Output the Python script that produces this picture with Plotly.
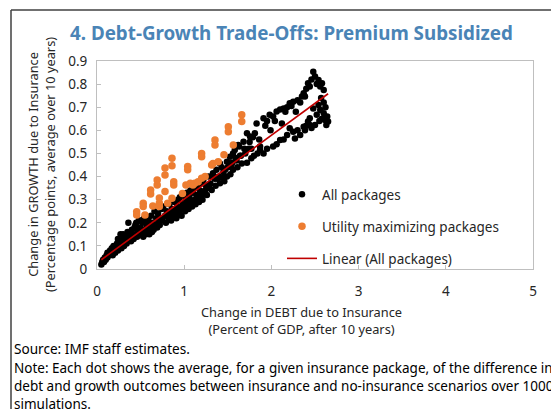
import numpy as np
import plotly.graph_objects as go

# ---------------- data ----------------
all_x = [
    0.05, 0.06, 0.07, 0.08, 0.09, 0.10, 0.11, 0.12, 0.13, 0.14, 0.15, 0.16, 0.17, 0.18, 0.19, 0.20,
    0.21, 0.22, 0.23, 0.24, 0.25, 0.26, 0.27, 0.28, 0.29, 0.30, 0.31, 0.32, 0.33, 0.34, 0.35, 0.36,
    0.37, 0.38, 0.39, 0.40, 0.41, 0.42, 0.43, 0.44, 0.45, 0.46, 0.47, 0.48, 0.49, 0.50, 0.51, 0.52,
    0.53, 0.54, 0.55, 0.56, 0.57, 0.58, 0.59, 0.60, 0.61, 0.62, 0.63, 0.64, 0.65, 0.66, 0.67, 0.68,
    0.69, 0.70, 0.71, 0.72, 0.73, 0.74, 0.75, 0.12, 0.18, 0.24, 0.30, 0.44, 0.50, 0.58, 0.64,
    0.76, 0.78, 0.79, 0.80, 0.82, 0.83, 0.84, 0.85, 0.86, 0.88, 0.89, 0.90, 0.91, 0.92, 0.93, 0.94,
    0.95, 0.96, 0.97, 0.98, 0.99, 1.00, 1.01, 1.02, 1.03, 1.04, 1.05, 1.06, 1.07, 1.08, 1.09, 1.10,
    1.11, 1.12, 1.13, 1.14, 1.15, 1.16, 1.17, 1.18, 1.19, 1.20, 1.21,
    1.22, 1.25, 1.28, 1.30, 1.33, 1.35, 1.37, 1.40, 1.41, 1.45, 1.49, 1.50, 1.525, 1.55, 1.56, 1.60,
    1.62, 1.65, 1.68, 1.70, 1.72, 1.755, 1.77, 1.81, 1.87,
    1.26, 1.315, 1.36, 1.41, 1.46, 1.49, 1.53, 1.56, 1.61, 1.66, 1.72, 1.77, 1.80, 1.84, 1.87, 1.91,
    1.95, 2.02, 2.06, 2.10, 2.14, 2.18, 2.25, 2.30, 2.37, 2.44,
    1.58, 1.63, 1.83, 1.91, 1.95, 1.98, 2.02, 2.06, 2.10, 2.14, 2.18, 2.21, 2.23, 2.25, 2.30, 2.35,
    2.37, 2.385, 2.40, 2.42, 2.44, 2.46, 2.48, 2.50, 2.52, 2.54, 2.56, 2.58, 2.60,
    1.34, 1.43, 1.52, 1.64, 1.74, 1.86, 1.99, 2.12, 2.28,
    2.21, 2.27, 2.33, 2.385, 2.42, 2.44, 2.48, 2.50, 2.52, 2.54, 2.56, 2.58, 2.60, 2.60, 2.615,
    2.62, 2.63, 2.65, 2.55, 2.46, 2.40, 2.64, 2.57,
    1.24, 1.29, 1.38, 1.44, 1.47, 1.54, 1.59, 1.69, 1.75, 1.79, 1.93, 2.04, 2.16, 2.33,
]
all_y = [
    0.02, 0.03, 0.04, 0.03, 0.05, 0.04, 0.06, 0.05, 0.07, 0.06, 0.08, 0.07, 0.09, 0.06, 0.10, 0.08,
    0.07, 0.09, 0.11, 0.08, 0.10, 0.12, 0.15, 0.09, 0.11, 0.13, 0.10, 0.12, 0.14, 0.11, 0.16, 0.20,
    0.13, 0.15, 0.12, 0.17, 0.14, 0.13, 0.18, 0.15, 0.20, 0.14, 0.17, 0.21, 0.15, 0.18, 0.16, 0.20,
    0.14, 0.22, 0.17, 0.15, 0.19, 0.16, 0.21, 0.15, 0.18, 0.23, 0.16, 0.20, 0.17, 0.25, 0.19, 0.22,
    0.18, 0.24, 0.20, 0.19, 0.22, 0.26, 0.21, 0.07, 0.09, 0.13, 0.15, 0.19, 0.21, 0.20, 0.18,
    0.27, 0.23, 0.20, 0.25, 0.22, 0.28, 0.24, 0.21, 0.26, 0.23, 0.29, 0.25, 0.22, 0.27, 0.30, 0.24,
    0.31, 0.26, 0.23, 0.28, 0.32, 0.27, 0.25, 0.30, 0.33, 0.28, 0.26, 0.31, 0.34, 0.29, 0.27, 0.33,
    0.35, 0.30, 0.28, 0.32, 0.36, 0.31, 0.29, 0.34, 0.37, 0.32, 0.30,
    0.385, 0.36, 0.40, 0.37, 0.414, 0.39, 0.429, 0.40, 0.457, 0.42, 0.464, 0.44, 0.486, 0.46, 0.50, 0.47,
    0.537, 0.49, 0.551, 0.50, 0.587, 0.573, 0.52, 0.587, 0.53,
    0.32, 0.342, 0.36, 0.371, 0.38, 0.40, 0.41, 0.429, 0.44, 0.457, 0.46, 0.479, 0.49, 0.50, 0.515, 0.50,
    0.52, 0.53, 0.54, 0.558, 0.56, 0.58, 0.594, 0.60, 0.616, 0.623,
    0.515, 0.53, 0.63, 0.652, 0.64, 0.667, 0.66, 0.681, 0.69, 0.695, 0.70, 0.717, 0.705, 0.724, 0.73, 0.746,
    0.76, 0.746, 0.78, 0.804, 0.79, 0.82, 0.854, 0.833, 0.80, 0.818, 0.79, 0.804, 0.775,
    0.40, 0.44, 0.45, 0.49, 0.52, 0.56, 0.60, 0.63, 0.68,
    0.609, 0.565, 0.58, 0.60, 0.638, 0.652, 0.695, 0.623, 0.667, 0.71, 0.688, 0.65, 0.674, 0.72, 0.645,
    0.70, 0.623, 0.638, 0.64, 0.61, 0.62, 0.66, 0.74,
    0.34, 0.35, 0.39, 0.395, 0.43, 0.45, 0.48, 0.52, 0.55, 0.57, 0.62, 0.64, 0.68, 0.72,
]

util_x = [
    0.455, 0.455, 0.55, 0.53, 0.53, 0.615, 0.615, 0.64, 0.69, 0.69, 0.715, 0.715, 0.715, 0.78, 0.78,
    0.78, 0.81, 0.86, 0.86, 0.86, 0.88, 0.88, 0.98, 1.04, 1.04, 1.02, 1.07, 1.10, 1.12, 1.16, 1.20,
    1.24, 1.20, 1.20, 1.315, 1.33, 1.353, 1.353, 1.39, 1.456, 1.506, 1.506, 1.563, 1.66, 1.66,
]
util_y = [
    0.248, 0.234, 0.234, 0.284, 0.27, 0.342, 0.325, 0.273, 0.385, 0.364, 0.307, 0.285, 0.27, 0.437, 0.407,
    0.335, 0.284, 0.479, 0.447, 0.306, 0.378, 0.364, 0.327, 0.443, 0.429, 0.364, 0.371, 0.364, 0.371, 0.378, 0.393,
    0.40, 0.50, 0.486, 0.45, 0.457, 0.558, 0.537, 0.464, 0.494, 0.616, 0.594, 0.537, 0.667, 0.638,
]

x_ticks = [0, 1, 2, 3, 4, 5]
y_ticks = [0, 0.1, 0.2, 0.3, 0.4, 0.5, 0.6, 0.7, 0.8, 0.9]
y_tick_text = ["0", "0.1", "0.2", "0.3", "0.4", "0.5", "0.6", "0.7", "0.8", "0.9"]

title_text = "4. Debt-Growth Trade-Offs: Premium Subsidized"
x_title = "Change in DEBT due to Insurance<br>(Percent of GDP, after 10 years)"
y_title = "Change in GROWTH due to Insurance<br>(Percentage points, average over 10 years)"
source_text = "Source: IMF staff estimates."
note_lines = [
    "Note: Each dot shows the average, for a given insurance package, of the difference in",
    "debt and growth outcomes between insurance and no-insurance scenarios over 1000",
    "simulations.",
]

# ---------------- trend line (least squares on all packages) ----------------
slope, intercept = np.polyfit(all_x, all_y, 1)
fit_x = [min(all_x), max(all_x)]
fit_y = [slope * v + intercept for v in fit_x]

# ---------------- figure ----------------
O = 8                      # the page body offset (default 8px body margin)
W, H = 559 - O, 409 - O
PL, PR, PT, PB = 97, 533, 61, 269   # plot area in window pixels
L, R, T, B = PL - O, 559 - PR, PT - O, 409 - PB
pw, ph = PR - PL, PB - PT


def px(x):
    return (x - PL) / pw


def py(y):
    return (PB - y) / ph


FONT = "Noto Sans"
TXT = "#262626"

fig = go.Figure()
fig.add_trace(go.Scatter(
    x=all_x, y=all_y, mode="markers", name="All packages",
    marker=dict(color="black", size=6.5, line=dict(width=0)),
    legendgroup="a",
))
fig.add_trace(go.Scatter(
    x=util_x, y=util_y, mode="markers", name="Utility maximizing packages",
    marker=dict(color="#ED7D31", size=7.5, line=dict(width=0)),
    legendgroup="b",
))
fig.add_trace(go.Scatter(
    x=fit_x, y=fit_y, mode="lines", name="Linear (All packages)",
    line=dict(color="#C00000", width=1.6),
    legendgroup="c",
))

axis_common = dict(
    showgrid=False, zeroline=False, showline=True, linecolor="#BFBFBF", linewidth=1,
    mirror=True, ticks="inside", ticklen=4, tickcolor="#BFBFBF",
    tickfont=dict(family=FONT, size=13.5, color=TXT),
)
fig.update_xaxes(range=[0, 5], tickvals=x_ticks, ticktext=[str(v) for v in x_ticks],
                 ticklabelstandoff=10, **axis_common)
fig.update_yaxes(range=[0, 0.9], tickvals=y_ticks, ticktext=y_tick_text,
                 ticklabelstandoff=6, **axis_common)

ann = []
ann.append(dict(x=px(291), y=py(33), xref="paper", yref="paper", text="<b>" + title_text + "</b>",
                showarrow=False, xanchor="center", yanchor="middle",
                font=dict(family=FONT, size=18.8, color="#4A84B6")))
ann.append(dict(x=px(301), y=py(320), xref="paper", yref="paper", text=x_title,
                showarrow=False, xanchor="center", yanchor="middle",
                font=dict(family=FONT, size=12.8, color=TXT)))
ann.append(dict(x=px(41), y=py(165), xref="paper", yref="paper", text=y_title,
                showarrow=False, xanchor="center", yanchor="middle", textangle=-90,
                font=dict(family=FONT, size=12.8, color=TXT)))
ann.append(dict(x=px(12), y=py(348), xref="paper", yref="paper", text=source_text,
                showarrow=False, xanchor="left", yanchor="middle",
                font=dict(family=FONT, size=13.6, color="black")))
for i, line in enumerate(note_lines):
    ann.append(dict(x=px(12), y=py(368 + 18 * i), xref="paper", yref="paper", text=line,
                    showarrow=False, xanchor="left", yanchor="middle",
                    font=dict(family=FONT, size=13.5, color="black")))

shapes = [
    dict(type="line", xref="paper", yref="paper", x0=px(11), x1=px(600), y0=py(10), y1=py(10),
         line=dict(color="#404040", width=1.5)),
    dict(type="line", xref="paper", yref="paper", x0=px(11), x1=px(11), y0=py(10), y1=py(450),
         line=dict(color="#404040", width=1.5)),
]

fig.update_layout(
    width=W, height=H, margin=dict(l=L, r=R, t=T, b=B, autoexpand=False),
    paper_bgcolor="white", plot_bgcolor="white",
    showlegend=True,
    legend=dict(x=px(282), y=py(179), xanchor="left", yanchor="top",
                bgcolor="rgba(0,0,0,0)", tracegroupgap=11.5, traceorder="grouped",
                font=dict(family=FONT, size=13.5, color=TXT)),
    annotations=ann, shapes=shapes,
)

fig.write_html("out.html")
